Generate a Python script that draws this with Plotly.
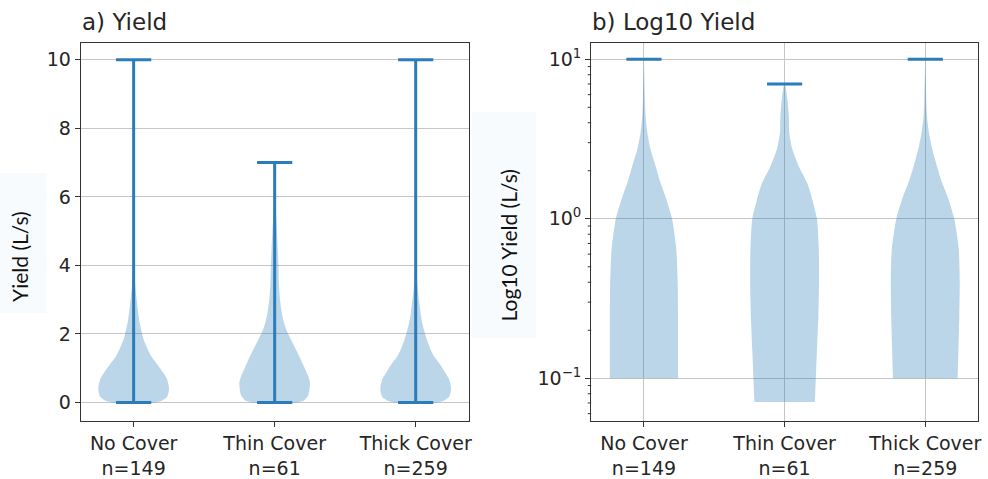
import math
import plotly.graph_objects as go

# ---- data -------------------------------------------------------------
categories = ["No Cover", "Thin Cover", "Thick Cover"]
counts = [149, 61, 259]
positions = [1, 2, 3]
y_min = [0, 0, 0]
y_max = [10, 7, 10]

# linear-scale density profiles: level (L/s) and half-width (x units)
lin_levels = [
    [0, 0.05, 0.15, 0.3, 0.45, 0.7, 0.9, 1.1, 1.35, 1.6, 1.85, 2.1, 2.35, 2.6, 2.85, 3.1, 3.4, 3.8, 4.5, 6, 8, 10],
    [0, 0.05, 0.2, 0.4, 0.6, 0.8, 1.03, 1.3, 1.53, 1.8, 2.02, 2.25, 2.5, 3.0, 3.5, 4.0, 4.5, 5.0, 5.5, 6.0, 7.0],
    [0, 0.05, 0.15, 0.3, 0.45, 0.7, 0.9, 1.1, 1.35, 1.6, 1.85, 2.1, 2.35, 2.6, 2.85, 3.1, 3.4, 3.8, 4.5, 6, 8, 10],
]
lin_halfwidth = [
    [0.15, 0.2, 0.235, 0.248, 0.25, 0.235, 0.205, 0.17, 0.125, 0.095, 0.07, 0.055, 0.042, 0.033, 0.026, 0.019, 0.012, 0.006, 0.003, 0.001, 0.0005, 0],
    [0.16, 0.205, 0.237, 0.248, 0.25, 0.235, 0.21, 0.18, 0.153, 0.12, 0.094, 0.072, 0.056, 0.038, 0.03, 0.027, 0.022, 0.016, 0.01, 0.005, 0.001],
    [0.15, 0.2, 0.235, 0.248, 0.25, 0.235, 0.205, 0.175, 0.13, 0.1, 0.078, 0.06, 0.045, 0.035, 0.028, 0.02, 0.013, 0.007, 0.003, 0.001, 0.0005, 0],
]

# log-scale density profiles
log_levels = [
    [0.1, 0.251, 0.398, 0.646, 1.0, 1.318, 1.679, 2.138, 2.723, 3.467, 4.406, 5.623, 7.943, 10],
    [0.071, 0.151, 0.245, 0.398, 0.646, 1.0, 1.318, 1.679, 2.138, 2.723, 3.467, 4.406, 5.623, 7.0],
    [0.1, 0.245, 0.398, 0.646, 1.0, 1.318, 1.679, 2.138, 2.723, 3.467, 4.406, 5.623, 7.943, 10],
]
log_halfwidth = [
    [0.242, 0.242, 0.24, 0.23, 0.2, 0.16, 0.118, 0.083, 0.047, 0.024, 0.012, 0.007, 0.003, 0],
    [0.215, 0.23, 0.24, 0.245, 0.243, 0.23, 0.197, 0.16, 0.1, 0.055, 0.033, 0.03, 0.02, 0.003],
    [0.23, 0.242, 0.245, 0.238, 0.206, 0.166, 0.12, 0.083, 0.05, 0.026, 0.012, 0.007, 0.003, 0],
]

yticks_lin = [0, 2, 4, 6, 8, 10]
yticks_log = [0.1, 1, 10]
yticks_log_text = ["10<sup>\u22121</sup>", "10<sup>0</sup>", "10<sup>1</sup>"]
yticks_log_minor = [m * d for d in (0.01, 0.1, 1) for m in range(2, 10)]

# ---- style -------------------------------------------------------------
W, H = 988, 479
BODY = "rgba(31,119,180,0.3)"
LINE = "#2b7cb8"
GRID = "#c6c6c6"
TXT = "#262626"
AXC = "#333333"
FONT = "DejaVu Sans"
CAP_HALF = 0.125
LOG_RANGE = [-1.268, 1.102]
X2_DOMAIN = [593 / W, 981 / W]
Y_DOMAIN = [1 - 421 / H, 1 - 43 / H]

tick_text = [f"{c}<br>n={n}" for c, n in zip(categories, counts)]

fig = go.Figure()


def body(pos, levels, half, xa, ya):
    xs = [pos + w for w in half] + [pos - w for w in reversed(half)]
    ys = list(levels) + list(reversed(levels))
    fig.add_trace(go.Scatter(
        x=xs, y=ys, xaxis=xa, yaxis=ya, mode="lines", fill="toself",
        fillcolor=BODY, line=dict(width=0, shape="spline", smoothing=0.6),
        hoverinfo="skip", showlegend=False))


def seg(x0, x1, y0, y1, xa, ya):
    fig.add_trace(go.Scatter(
        x=[x0, x1], y=[y0, y1], xaxis=xa, yaxis=ya, mode="lines",
        line=dict(color=LINE, width=3), hoverinfo="skip", showlegend=False))


# a) linear panel: bodies, stems, min and max caps
for i, p in enumerate(positions):
    body(p, lin_levels[i], lin_halfwidth[i], "x", "y")
for i, p in enumerate(positions):
    seg(p, p, y_min[i], y_max[i], "x", "y")
    seg(p - CAP_HALF, p + CAP_HALF, y_min[i], y_min[i], "x", "y")
    seg(p - CAP_HALF, p + CAP_HALF, y_max[i], y_max[i], "x", "y")

# b) log panel: zero minima cannot be placed on a log axis, so only max caps
for i, p in enumerate(positions):
    body(p, log_levels[i], log_halfwidth[i], "x2", "y2")
for i, p in enumerate(positions):
    seg(p - CAP_HALF, p + CAP_HALF, y_max[i], y_max[i], "x2", "y2")

axis_common = dict(
    showline=True, mirror=True, linecolor=AXC, linewidth=1.2,
    ticks="outside", ticklen=5, tickcolor=AXC, tickwidth=1.2,
    tickfont=dict(family=FONT, size=19, color=TXT), zeroline=False,
)

fig.update_layout(
    width=W, height=H,
    margin=dict(l=0, r=0, t=0, b=0),
    paper_bgcolor="white", plot_bgcolor="white",
    xaxis=dict(domain=[81 / W, 470 / W], range=[0.625, 3.375], anchor="y",
               tickvals=positions, ticktext=tick_text, showgrid=False, **axis_common),
    yaxis=dict(domain=Y_DOMAIN, range=[-0.54, 10.49], anchor="x",
               tickvals=yticks_lin, showgrid=True, gridcolor=GRID, gridwidth=1.3,
               **axis_common),
    xaxis2=dict(domain=X2_DOMAIN, range=[0.625, 3.375], anchor="y2",
                tickvals=positions, ticktext=tick_text, showgrid=True,
                gridcolor=GRID, gridwidth=1.3, **axis_common),
    yaxis2=dict(domain=Y_DOMAIN, type="log", range=LOG_RANGE, anchor="x2",
                tickvals=yticks_log, ticktext=yticks_log_text, showgrid=True,
                gridcolor=GRID, gridwidth=1.3, **axis_common),
)

# minor ticks of the log axis, placed in paper space from the axis range
for v in yticks_log_minor:
    frac = (math.log10(v) - LOG_RANGE[0]) / (LOG_RANGE[1] - LOG_RANGE[0])
    if 0 <= frac <= 1:
        yp = Y_DOMAIN[0] + frac * (Y_DOMAIN[1] - Y_DOMAIN[0])
        fig.add_shape(type="line", xref="paper", yref="paper",
                      x0=X2_DOMAIN[0] - 3.5 / W, x1=X2_DOMAIN[0], y0=yp, y1=yp,
                      line=dict(color=AXC, width=1), layer="above")

# label backgrounds
fig.add_shape(type="rect", xref="paper", yref="paper",
              x0=0, x1=47 / W, y0=1 - 313 / H, y1=1 - 173 / H,
              fillcolor="#f8fbfe", line=dict(width=0), layer="below")
fig.add_shape(type="rect", xref="paper", yref="paper",
              x0=473 / W, x1=538 / W, y0=1 - 338 / H, y1=1 - 112 / H,
              fillcolor="#f8fbfe", line=dict(width=0), layer="below")

# panel titles
fig.add_annotation(text="a) Yield", xref="paper", yref="paper",
                   x=80 / W, y=1 - 22 / H, xanchor="left", yanchor="middle",
                   showarrow=False, font=dict(family=FONT, size=23, color=TXT))
fig.add_annotation(text="b) Log10 Yield", xref="paper", yref="paper",
                   x=592 / W, y=1 - 22 / H, xanchor="left", yanchor="middle",
                   showarrow=False, font=dict(family=FONT, size=23, color=TXT))

# y-axis titles
fig.add_annotation(text="Yield (L/s)", xref="paper", yref="paper",
                   x=20 / W, y=1 - 256 / H, xanchor="center", yanchor="middle",
                   textangle=-90, showarrow=False,
                   font=dict(family="Lato", size=21, color="#111111"))
fig.add_annotation(text="Log10 Yield (L/s)", xref="paper", yref="paper",
                   x=510 / W, y=1 - 245 / H, xanchor="center", yanchor="middle",
                   textangle=-90, showarrow=False,
                   font=dict(family="Lato", size=21, color="#111111"))

fig.write_html("out.html")
